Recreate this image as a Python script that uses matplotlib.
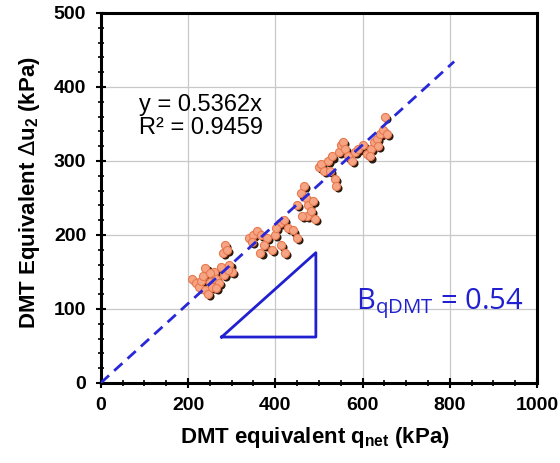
import numpy as np
import matplotlib
matplotlib.use("Agg")
import matplotlib.pyplot as plt
from matplotlib import transforms
from matplotlib.ticker import MultipleLocator

plt.rcParams['font.family'] = ['Liberation Sans', 'DejaVu Sans']

# DATA ########################################################################

q_net = [210, 218, 225, 230, 235, 240, 245, 250, 255, 260, 265, 270, 275,
         280, 285, 290, 295, 300, 282, 292, 240, 250, 265,
         340, 348, 358, 368, 380, 375, 392, 400, 410, 420, 430, 440, 412,
         422, 450, 402, 346, 366,
         450, 458, 465, 470, 472, 476, 482, 490, 500, 462, 486,
         505, 512, 520, 530, 536, 540, 546, 550, 556, 560, 566, 575, 582, 526,
         590, 600, 610, 620, 626, 632, 640, 652, 646, 636, 656, 616]
du2 = [140, 135, 130, 138, 145, 125, 120, 136, 130, 150, 140, 135, 156,
       176, 186, 180, 160, 150, 146, 152, 155, 148, 128,
       196, 200, 205, 200, 196, 186, 180, 200, 216, 220, 210, 206, 186,
       176, 196, 210, 190, 176,
       240, 256, 266, 250, 226, 240, 232, 222, 292, 226, 246,
       296, 286, 300, 306, 276, 266, 312, 322, 326, 316, 306, 300, 312, 286,
       316, 322, 310, 316, 326, 330, 336, 360, 342, 320, 336, 306]

slope = 0.5362
r2 = 0.9459
fit_x = [0, 810]

# PLOT ########################################################################

fig = plt.figure(figsize=(5.6, 4.63), dpi=100)
ax = fig.add_axes([0.180, 0.173, 0.779, 0.799])

# shadowed markers
shadow = transforms.offset_copy(ax.transData, fig=fig, x=1.5, y=-1.5, units='points')
ax.scatter(q_net, du2, s=34, color='#2a1a10', transform=shadow, zorder=3, linewidths=0)
ax.scatter(q_net, du2, s=34, color='#f6a584', edgecolors='#e8784e',
           linewidths=0.8, zorder=4)

ax.plot(fit_x, [slope * v for v in fit_x], color='#2828d8', lw=2,
        dashes=(4, 2.5), zorder=5)

# slope triangle
ax.plot([277, 493, 493, 277], [62, 62, 176, 62], color='#2020d0', lw=2, zorder=5)

ax.text(88, 368, "y = {:.4f}x".format(slope), fontsize=17)
ax.text(88, 337, "R\u00b2 = {:.4f}".format(r2), fontsize=17)
ax.text(585, 100, r"B$_{\mathregular{qDMT}}$ = 0.54", fontsize=21, color='#2020d0',
        family='Open Sans')

ax.set_xlim(0, 1000)
ax.set_ylim(0, 500)
ax.xaxis.set_major_locator(MultipleLocator(200))
ax.xaxis.set_minor_locator(MultipleLocator(50))
ax.yaxis.set_major_locator(MultipleLocator(100))
ax.yaxis.set_minor_locator(MultipleLocator(20))
ax.grid(True, which='major', color='#c8c8c8', lw=0.9)
ax.set_axisbelow(True)

for sp in ax.spines.values():
    sp.set_linewidth(2.2)
ax.tick_params(which='major', direction='inout', length=7, width=1.5,
               labelsize=14, pad=7)
ax.tick_params(which='minor', direction='inout', length=4, width=1.2)
for lbl in ax.get_xticklabels() + ax.get_yticklabels():
    lbl.set_fontweight('bold')

ax.set_xlabel(r"DMT equivalent q$_{\mathregular{net}}$ (kPa)", fontsize=16,
              fontweight='bold')
ax.set_ylabel(r"DMT Equivalent $\Delta$u$_{\mathregular{2}}$ (kPa)", fontsize=16,
              fontweight='bold')
ax.xaxis.set_label_coords(0.49, -0.115)
ax.yaxis.set_label_coords(-0.135, 0.515)

fig.savefig("out.png", dpi=100)
